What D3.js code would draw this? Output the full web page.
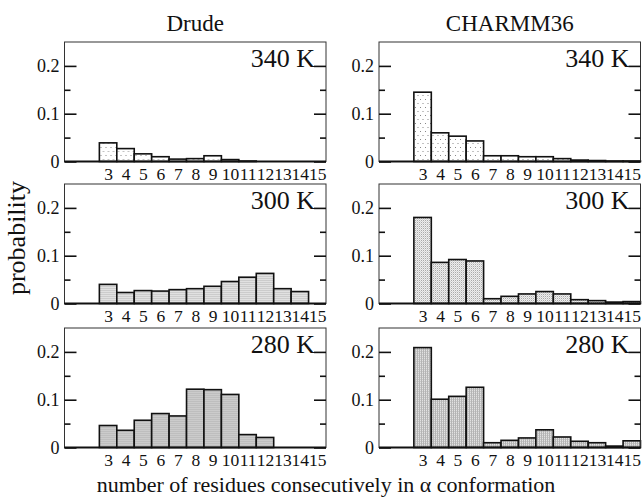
<!DOCTYPE html>
<html>
<head>
<meta charset="utf-8">
<script src="https://cdn.jsdelivr.net/npm/d3@7"></script>
<style>
  body { margin: 0; background: #fff; }
</style>
</head>
<body>
<svg id="chart"></svg>
<script>
// residue counts along the x axis
const sizes = [3, 4, 5, 6, 7, 8, 9, 10, 11, 12, 13, 14, 15];

// probabilities, one value per size above
const drude340 = [0.039, 0.027, 0.016, 0.010, 0.005, 0.006, 0.012, 0.004, 0.001, 0, 0, 0, 0];
const drude300 = [0.040, 0.023, 0.027, 0.026, 0.029, 0.031, 0.036, 0.046, 0.055, 0.063, 0.031, 0.025, 0];
const drude280 = [0.046, 0.036, 0.057, 0.071, 0.066, 0.122, 0.121, 0.111, 0.027, 0.021, 0, 0, 0];
const charmm340 = [0.145, 0.060, 0.053, 0.043, 0.012, 0.012, 0.010, 0.010, 0.006, 0.003, 0.002, 0.001, 0.001];
const charmm300 = [0.180, 0.086, 0.092, 0.089, 0.010, 0.015, 0.020, 0.025, 0.020, 0.008, 0.006, 0.003, 0.004];
const charmm280 = [0.209, 0.101, 0.107, 0.126, 0.010, 0.015, 0.020, 0.037, 0.022, 0.013, 0.010, 0.003, 0.014];

const models = ["Drude", "CHARMM36"];
const temps = ["340 K", "300 K", "280 K"];
const yMajor = [0, 0.1, 0.2];
const yMinor = [0.05, 0.15];

const series = [
    [drude340, charmm340],
    [drude300, charmm300],
    [drude280, charmm280]
];

const serif = "'Liberation Serif', 'Times New Roman', 'DejaVu Serif', serif";
const width = 643, height = 502;
const colX = [64.5, 379];
const rowY = [42, 184, 328];
const pw = 261.5, ph = 119.5;

const svg = d3.select("#chart").attr("width", width).attr("height", height);

// fill textures, one per temperature row
const defs = svg.append("defs");
const p1 = defs.append("pattern").attr("id", "pat0").attr("patternUnits", "userSpaceOnUse")
    .attr("width", 5).attr("height", 8);
p1.append("rect").attr("width", 5).attr("height", 8).attr("fill", "#fff");
p1.append("rect").attr("x", 1).attr("y", 1).attr("width", 1).attr("height", 1).attr("fill", "#888");
p1.append("rect").attr("x", 3.5).attr("y", 5).attr("width", 1).attr("height", 1).attr("fill", "#888");

const p2 = defs.append("pattern").attr("id", "pat1").attr("patternUnits", "userSpaceOnUse")
    .attr("width", 2).attr("height", 2);
p2.append("rect").attr("width", 2).attr("height", 2).attr("fill", "#eee");
p2.append("rect").attr("width", 1).attr("height", 1).attr("fill", "#aaa");
p2.append("rect").attr("x", 1).attr("y", 1).attr("width", 1).attr("height", 1).attr("fill", "#d4d4d4");

const p3 = defs.append("pattern").attr("id", "pat2").attr("patternUnits", "userSpaceOnUse")
    .attr("width", 2).attr("height", 2);
p3.append("rect").attr("width", 2).attr("height", 2).attr("fill", "#e2e2e2");
p3.append("rect").attr("width", 1).attr("height", 2).attr("fill", "#b4b4b4");
p3.append("rect").attr("x", 1).attr("y", 1).attr("width", 1).attr("height", 1).attr("fill", "#c8c8c8");

const x = d3.scaleLinear().domain([0.5, 15.5]).range([0, pw]);
const y = d3.scaleLinear().domain([0, 0.25]).range([ph, 0]);

series.forEach((row, r) => {
    row.forEach((vals, c) => {
        const g = svg.append("g").attr("transform", `translate(${colX[c]},${rowY[r]})`);

        // bars
        g.selectAll("rect.bar")
            .data(sizes.map((s, i) => ({ s, v: vals[i] })))
            .enter().append("rect")
            .attr("class", "bar")
            .attr("x", d => x(d.s - 0.5))
            .attr("width", d => x(d.s + 0.5) - x(d.s - 0.5))
            .attr("y", d => y(d.v))
            .attr("height", d => y(0) - y(d.v))
            .attr("fill", `url(#pat${r})`)
            .attr("stroke", "#111")
            .attr("stroke-width", 1.6);

        // frame
        g.append("rect")
            .attr("width", pw).attr("height", ph)
            .attr("fill", "none").attr("stroke", "#333").attr("stroke-width", 1);
        g.append("line")
            .attr("x1", 0).attr("x2", pw).attr("y1", ph).attr("y2", ph)
            .attr("stroke", "#111").attr("stroke-width", 2);

        // y axes, ticks pointing inward on both sides
        const left = g.append("g").call(d3.axisLeft(y).tickValues(yMajor)
            .tickSize(-12).tickPadding(5).tickFormat(d3.format("")));
        g.append("g").call(d3.axisLeft(y).tickValues(yMinor).tickSize(-6).tickFormat(""));
        g.append("g").attr("transform", `translate(${pw},0)`)
            .call(d3.axisRight(y).tickValues(yMajor).tickSize(-12).tickFormat(""));
        g.append("g").attr("transform", `translate(${pw},0)`)
            .call(d3.axisRight(y).tickValues(yMinor).tickSize(-6).tickFormat(""));
        g.selectAll(".domain").remove();
        g.selectAll(".tick line").attr("stroke", "#111").attr("stroke-width", 1.6);
        left.selectAll("text").style("font-size", "18px").style("font-family", serif).attr("fill", "#111");

        // x labels, no tick marks
        const bottom = g.append("g").attr("transform", `translate(0,${ph})`)
            .call(d3.axisBottom(x).tickValues(sizes).tickSize(0).tickPadding(6));
        bottom.select(".domain").remove();
        bottom.selectAll("text").style("font-size", "17.5px").style("font-family", serif).attr("fill", "#111");

        // temperature label
        g.append("text")
            .attr("x", pw - 11).attr("y", 24.5)
            .attr("text-anchor", "end")
            .style("font-family", serif)
            .style("font-size", "26px")
            .attr("fill", "#111")
            .text(temps[r]);

        if (r === 0) {
            g.append("text")
                .attr("x", pw / 2).attr("y", -11.5)
                .attr("text-anchor", "middle")
                .style("font-family", serif)
                .style("font-size", "23px")
                .attr("fill", "#111")
                .text(models[c]);
        }
    });
});

svg.append("text")
    .attr("transform", "translate(25,238) rotate(-90)")
    .attr("text-anchor", "middle")
    .style("font-family", serif)
    .style("font-size", "26px")
    .attr("fill", "#111")
    .text("probability");

svg.append("text")
    .attr("x", 326).attr("y", 492)
    .attr("text-anchor", "middle")
    .style("font-family", serif)
    .style("font-size", "22px")
    .attr("fill", "#111")
    .text("number of residues consecutively in α conformation");
</script>
</body>
</html>
